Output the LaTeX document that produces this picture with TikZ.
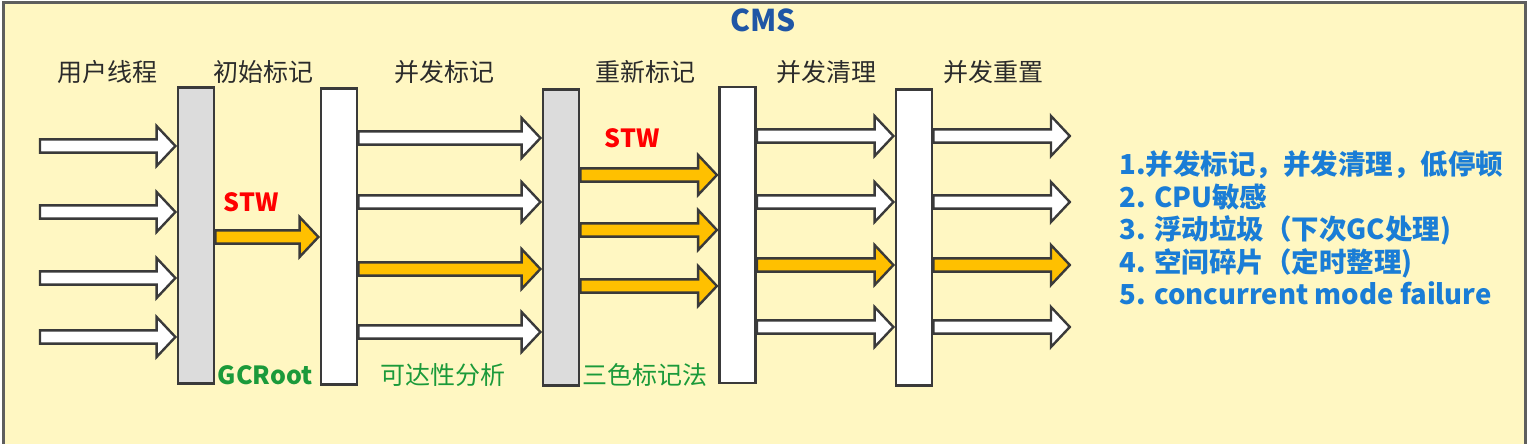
\documentclass[tikz,border=0pt]{standalone}
\usepackage{fontspec}
\setmainfont{Noto Sans CJK SC}
\usetikzlibrary{calc}
\definecolor{bgyellow}{HTML}{FFF7C2}
\definecolor{framegray}{HTML}{5E5E5E}
\definecolor{edgegray}{HTML}{3A3A3A}
\definecolor{stwred}{HTML}{FF0000}
\definecolor{notegreen}{HTML}{1B9A3A}
\definecolor{titleblue}{HTML}{1F56A5}
\definecolor{listblue}{HTML}{1A7DD6}
\definecolor{gcorange}{HTML}{FFC000}
\definecolor{bargray}{HTML}{DCDCDC}
\begin{document}
\begin{tikzpicture}[x=0.5pt,y=-0.5pt,
		bar/.style={draw=edgegray,line width=1.4pt,minimum width=18pt,minimum height=148pt,inner sep=0pt},
		fat/.style={draw=edgegray,line width=1.2pt,line join=miter,fill=#1,
			to path={let \p1=(\tikztostart), \p2=(\tikztotarget) in
				(\x1,\y1+3.3pt) -- (\x2-10pt,\y1+3.3pt) -- (\x2-10pt,\y1+10pt) -- (\x2-0.6pt,\y1) -- (\x2-10pt,\y1-10pt) -- (\x2-10pt,\y1-3.3pt) -- (\x1,\y1-3.3pt) -- cycle}},
		head/.style={text=black!83,font=\fontsize{12.5}{15}\selectfont,inner sep=0pt},
		stw/.style={text=stwred,font=\fontsize{12.5}{15}\selectfont\bfseries,inner sep=0pt},
		note/.style={text=notegreen,font=\fontsize{12.5}{15}\selectfont\bfseries,inner sep=0pt}]
		\useasboundingbox (0,0) rectangle (1532,444);
		\clip (0,0) rectangle (1532,444);
		\draw[draw=framegray,line width=1.5pt,fill=bgyellow] (3,2.5) rectangle (1525.5,480);

		\node[text=titleblue,font=\fontsize{15}{18}\selectfont\bfseries] (cms) at (763,20) {CMS};

		\node[head] (h0) at (107,72) {用户线程};
		\node[head] (h1) at (263,72) {初始标记};
		\node[head] (h2) at (444,72) {并发标记};
		\node[head] (h3) at (645,72) {重新标记};
		\node[head] (h4) at (826,72) {并发清理};
		\node[head] (h5) at (993,72) {并发重置};

		\node[bar,fill=bargray] (b1) at (196,235.5) {};
		\node[bar,fill=white] (b2) at (339,236.5) {};
		\node[bar,fill=bargray] (b3) at (561,237.5) {};
		\node[bar,fill=white] (b4) at (737.5,235) {};
		\node[bar,fill=white] (b5) at (914,237.5) {};

		\coordinate (u1) at (40,146);
		\coordinate (u2) at (40,212);
		\coordinate (u3) at (40,278);
		\coordinate (u4) at (40,337);
		\draw[fat=white] (u1) to (b1.west |- u1);
		\draw[fat=white] (u2) to (b1.west |- u2);
		\draw[fat=white] (u3) to (b1.west |- u3);
		\draw[fat=white] (u4) to (b1.west |- u4);

		\draw[fat=gcorange] (b1.east |- 0,237) to (b2.west |- 0,237);

		\draw[fat=white] (b2.east |- 0,138) to (b3.west |- 0,138);
		\draw[fat=white] (b2.east |- 0,202) to (b3.west |- 0,202);
		\draw[fat=gcorange] (b2.east |- 0,269) to (b3.west |- 0,269);
		\draw[fat=white] (b2.east |- 0,332) to (b3.west |- 0,332);

		\draw[fat=gcorange] (b3.east |- 0,175) to (b4.west |- 0,175);
		\draw[fat=gcorange] (b3.east |- 0,230) to (b4.west |- 0,230);
		\draw[fat=gcorange] (b3.east |- 0,286) to (b4.west |- 0,286);

		\draw[fat=white] (b4.east |- 0,136) to (b5.west |- 0,136);
		\draw[fat=white] (b4.east |- 0,202) to (b5.west |- 0,202);
		\draw[fat=gcorange] (b4.east |- 0,265) to (b5.west |- 0,265);
		\draw[fat=white] (b4.east |- 0,327) to (b5.west |- 0,327);

		\coordinate (o1) at (1071,136);
		\coordinate (o2) at (1071,202);
		\coordinate (o3) at (1071,265);
		\coordinate (o4) at (1071,327);
		\draw[fat=white] (b5.east |- o1) to (o1);
		\draw[fat=white] (b5.east |- o2) to (o2);
		\draw[fat=gcorange] (b5.east |- o3) to (o3);
		\draw[fat=white] (b5.east |- o4) to (o4);

		\node[stw] (stw1) at (251,202) {STW};
		\node[stw] (stw2) at (632,138) {STW};

		\node[note] (gcroot) at (265,375) {GCRoot};
		\node[note,font=\fontsize{12.5}{15}\selectfont] (reach) at (443,375) {可达性分析};
		\node[note,font=\fontsize{12.5}{15}\selectfont] (tricolor) at (645,375) {三色标记法};

		\node[anchor=west,align=left,inner sep=0pt,text=listblue,font=\fontsize{13.75}{16.25}\selectfont\bfseries] (points) at (1119,228) {1.并发标记，并发清理，低停顿\\2. CPU敏感\\3. 浮动垃圾（下次GC处理)\\4. 空间碎片（定时整理)\\5. concurrent mode failure};
	\end{tikzpicture}
\end{document}
